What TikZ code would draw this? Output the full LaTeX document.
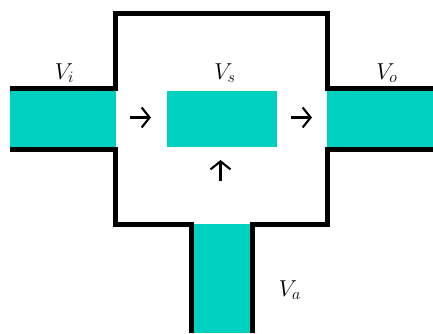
\documentclass[tikz,border=0pt]{standalone}
\usepackage{amsmath}
\definecolor{turquesa}{HTML}{00D0C0}
\usetikzlibrary{arrows.meta, positioning}

\begin{document}
\begin{tikzpicture}[
  x=0.75pt, y=-0.75pt,
  pipe/.style={
    rectangle, fill=turquesa, inner sep=0pt, outer sep=0pt,
    minimum width=79.5pt, minimum height=42pt
  },
  wall/.style={line width=3.75pt, line join=miter},
  arr/.style={-{Straight Barb[length=6pt, width=15pt, line width=1.6pt]}, line width=1.6pt},
  lab/.style={font=\fontsize{17}{20}\selectfont, inner sep=0pt}
]
  \useasboundingbox (0,0) rectangle (433,333);
  \node[pipe] (vi) at (63,119) {};
  \node[pipe, minimum width=82.5pt] (vs) at (222,119) {};
  \node[pipe] (vo) at (380,119) {};
  \node[pipe, minimum width=42.4pt, minimum height=81.75pt] (va) at (222.25,278.5) {};
  \draw[wall] (10,88.5) -- (115.5,88.5) -- (115.5,13.5) -- (327.5,13.5)
    -- (327.5,88.5) -- (433,88.5);
  \draw[wall] (10,149.5) -- (115.5,149.5) -- (115.5,224.5) -- (191.5,224.5) -- (191.5,333);
  \draw[wall] (252.5,333) -- (252.5,224.5) -- (327.5,224.5) -- (327.5,149.5) -- (433,149.5);
  \coordinate (a0) at (130,117.5);
  \coordinate (a1) at (151,117.5);
  \coordinate (b0) at (291,117.5);
  \coordinate (b1) at (312,117.5);
  \coordinate (c0) at (220.5,181);
  \coordinate (c1) at (220.5,160);
  \foreach \a/\b in {a0/a1,b0/b1,c0/c1}
    \draw[arr] (\a)--(\b);
  \node[lab] (li) at (64.5,73) {$V_i$};
  \node[lab] (ls) at (225,73) {$V_s$};
  \node[lab] (lo) at (387,73) {$V_o$};
  \node[lab] (la) at (290,290) {$V_a$};
\end{tikzpicture}
\end{document}
